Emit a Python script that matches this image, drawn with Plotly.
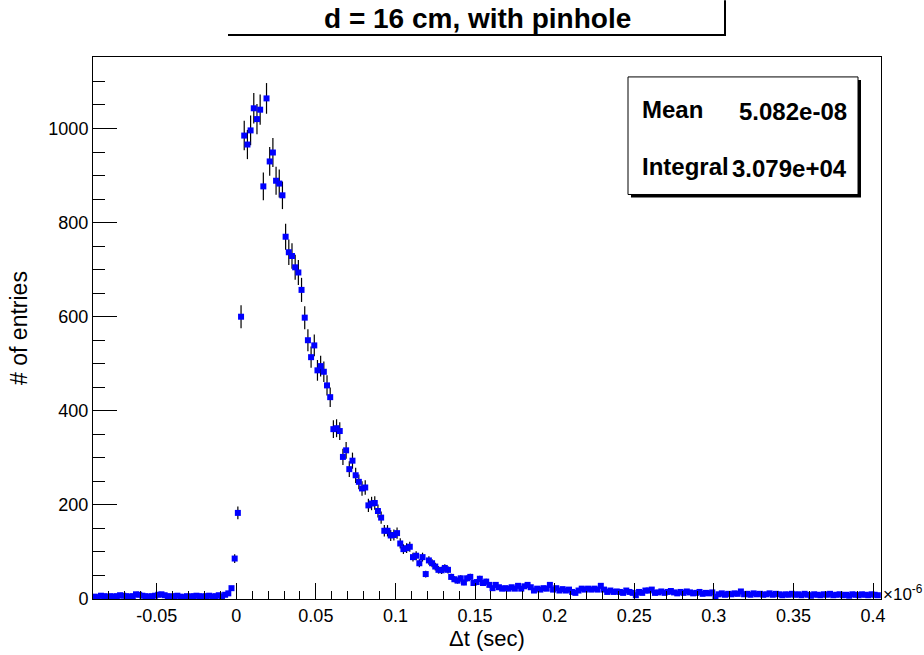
import numpy as np
import plotly.graph_objects as go

# ---------------- data ----------------
x_min = -0.09          # histogram lower edge (x 1e-6 s)
bin_width = 0.002      # bin width (x 1e-6 s)

counts_pre = [5, 4, 7, 6, 5, 6, 5, 6, 8, 7, 6, 5, 6, 10, 9, 7, 6, 5, 6, 7,
              9, 10, 8, 6, 5, 6, 7, 5, 4, 6, 5, 6, 7, 6, 5, 6, 7, 5, 6, 8,
              5, 9, 12, 23, 86]
counts_peak = [183, 600, 985, 966, 996, 1043, 1020, 1040, 877, 1064, 930, 949,
               889, 883, 858]
counts_decay = [770, 737, 729, 705, 694, 657, 598, 550, 514, 539, 486, 495, 483,
                454, 429, 361, 363, 357, 302, 316, 276, 294, 263, 249, 235, 237,
                199, 203, 204, 187, 173, 145, 145, 135, 136, 140, 118, 106, 108,
                111, 89, 92, 76, 89, 53, 82, 76, 69, 62, 61, 66, 62]
counts_tail1 = [47, 42, 39, 44, 35, 44, 47, 34, 36, 43, 34, 37, 30, 23, 30, 25,
                22, 23, 22, 25, 22, 28, 22, 27, 30, 25, 18, 22, 20, 23, 22, 30,
                20, 23, 18, 21, 18, 20, 15, 13, 18, 22, 20, 22, 20, 22, 20, 28,
                20, 15, 18, 15, 16, 15, 13, 18, 15, 13, 8, 15, 13, 18, 18, 20, 13]
counts_tail2 = [14, 16, 13, 15, 17, 14, 12, 15, 13, 16, 14, 12, 13, 15, 11, 13,
                12, 14,
                5, 10, 12, 9, 11, 10, 12, 11, 16, 10, 11, 9, 12, 10, 11, 9, 10,
                12, 9, 11, 10, 8, 10, 9, 11,
                9, 10, 8, 11, 9, 7, 10, 9, 8, 10, 9, 11, 8, 9, 10, 8, 9, 7, 10,
                9, 8, 10, 9, 8, 10, 9, 8]

x_tick_vals = [-0.05, 0, 0.05, 0.1, 0.15, 0.2, 0.25, 0.3, 0.35, 0.4]
x_tick_text = ["-0.05", "0", "0.05", "0.1", "0.15", "0.2", "0.25", "0.3", "0.35", "0.4"]
y_tick_vals = [0, 200, 400, 600, 800, 1000]

title_text = "d = 16 cm, with pinhole"
stats_labels = ["Mean", "Integral"]
stats_values = ["5.082e-08", "3.079e+04"]

# ---------------- build ----------------
counts = np.array(counts_pre + counts_peak + counts_decay + counts_tail1 + counts_tail2, dtype=float)
centers = x_min + bin_width * (np.arange(len(counts)) + 0.5)
errors = np.sqrt(counts)

W, H = 924, 655
L, R, T, B = 93, 43, 57, 54
PW, PH = W - L - R, H - T - B


def px(xp):   # page pixel -> paper x
    return (xp - L) / PW


def py(yp):   # page pixel -> paper y
    return (H - B - yp) / PH


FONT = "Liberation Sans, Arial, Helvetica, sans-serif"

fig = go.Figure()
fig.add_trace(go.Scatter(
    x=centers, y=counts, mode="markers",
    marker=dict(symbol="square", size=6, color="#0000ff", line=dict(width=0)),
    error_y=dict(type="data", array=errors, visible=True, color="black",
                 thickness=1.2, width=0),
    showlegend=False, hoverinfo="x+y",
))

fig.update_layout(
    width=W, height=H,
    margin=dict(l=L, r=R, t=T, b=B),
    paper_bgcolor="white", plot_bgcolor="white",
    font=dict(family=FONT, size=18, color="black"),
    xaxis=dict(
        range=[-0.09, 0.405], showgrid=False, zeroline=False,
        showline=True, mirror=True, linecolor="black", linewidth=1,
        ticks="inside", ticklen=16, tickwidth=1, tickcolor="black",
        tickvals=x_tick_vals, ticktext=x_tick_text,
        minor=dict(dtick=0.01, tick0=0, ticks="inside", ticklen=8,
                   tickwidth=1, tickcolor="black", showgrid=False),
        tickfont=dict(size=18),
        title=dict(text="Δt (sec)", font=dict(size=22), standoff=2),
    ),
    yaxis=dict(
        range=[0, 1152], showgrid=False, zeroline=False,
        showline=True, mirror=True, linecolor="black", linewidth=1,
        ticks="inside", ticklen=24, tickwidth=1, tickcolor="black",
        tickvals=y_tick_vals,
        minor=dict(dtick=50, tick0=0, ticks="inside", ticklen=12,
                   tickwidth=1, tickcolor="black", showgrid=False),
        tickfont=dict(size=18),
        title=dict(text="# of entries", font=dict(size=23), standoff=14),
    ),
)

shapes = []
# title box shadow (bottom and right edges)
shapes.append(dict(type="line", xref="paper", yref="paper",
                   x0=px(228), x1=px(726), y0=py(35), y1=py(35),
                   line=dict(color="black", width=2)))
shapes.append(dict(type="line", xref="paper", yref="paper",
                   x0=px(725), x1=px(725), y0=py(36), y1=py(0),
                   line=dict(color="black", width=2)))
# stats box: shadow then box
shapes.append(dict(type="rect", xref="paper", yref="paper",
                   x0=px(631), x1=px(861), y0=py(198), y1=py(80),
                   fillcolor="black", line=dict(width=0)))
shapes.append(dict(type="rect", xref="paper", yref="paper",
                   x0=px(628), x1=px(858), y0=py(195), y1=py(77),
                   fillcolor="white", line=dict(color="black", width=1)))
fig.update_layout(shapes=shapes)

ann = []
ann.append(dict(text="<b>" + title_text + "</b>", xref="paper", yref="paper",
                x=px(477), y=py(18), xanchor="center", yanchor="middle",
                showarrow=False, font=dict(size=28, family=FONT)))
row_y = [110, 167]
for lab, val, yy in zip(stats_labels, stats_values, row_y):
    ann.append(dict(text="<b>" + lab + "</b>", xref="paper", yref="paper",
                    x=px(640), y=py(yy), xanchor="left", yanchor="middle",
                    showarrow=False, font=dict(size=24, family=FONT)))
    ann.append(dict(text="<b>" + val + "</b>", xref="paper", yref="paper",
                    x=px(849), y=py(yy + 2), xanchor="right", yanchor="middle",
                    showarrow=False, font=dict(size=24, family=FONT)))
ann.append(dict(text="×10<sup>-6</sup>", xref="paper", yref="paper",
                x=px(881), y=py(595), xanchor="left", yanchor="middle",
                showarrow=False, font=dict(size=17, family=FONT)))
fig.update_layout(annotations=ann)

fig.write_html("out.html",
               config={"displayModeBar": False},
               post_script="document.body.style.margin='0';"
                           "document.body.style.overflow='hidden';")
